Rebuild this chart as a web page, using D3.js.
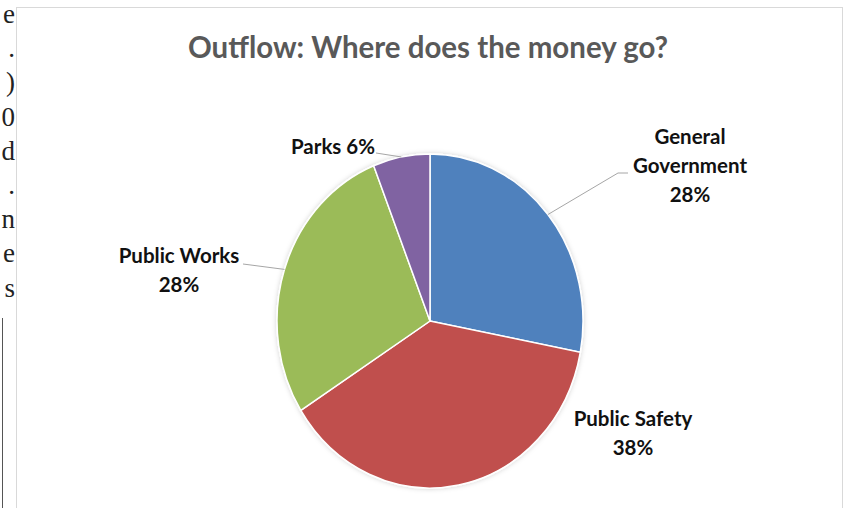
<!DOCTYPE html>
<html>
<head>
<meta charset="utf-8">
<script src="https://cdn.jsdelivr.net/npm/d3@7"></script>
<style>
  body { margin: 0; background: #fff; }
  svg { display: block; }
</style>
</head>
<body>
<script>
// data
var categories = ['General Government', 'Public Safety', 'Public Works', 'Parks'];
var shares = [28, 38, 28, 6];
var colors = ['#4f81bd', '#c0504d', '#9bbb59', '#8064a2'];
// label lines as drawn, and where each label sits
var labelLines = [['General', 'Government', '28%'], ['Public Safety', '38%'], ['Public Works', '28%'], ['Parks 6%']];
var labelPos = [[690, 144], [633, 426], [179, 263], [333, 154]];
var leaderElbow = [[628, 173], null, [243, 264], [376, 153]];
var leaderKnee = [[618, 173], null, null, null];
// the bits of page text cut off at the left
var pageChars = ['e', '.', ')', '0', 'd', '.', 'n', 'e', 's'];

var width = 849;
var height = 508;
var cx = 430, cy = 321;
var rx = 153, ry = 167;

var svg = d3.select('body').append('svg').attr('width', width).attr('height', height);

// page text at the left edge
svg.selectAll('.pagechar')
  .data(pageChars)
  .enter()
  .append('text')
  .attr('class', 'pagechar')
  .attr('x', 15)
  .attr('y', function(d, i){ return 23 + i * 34.2; })
  .attr('text-anchor', 'end')
  .attr('font-family', 'Liberation Serif, serif')
  .attr('font-size', 27)
  .attr('fill', '#222')
  .text(function(d){ return d; });

svg.append('line')
  .attr('x1', 2.5).attr('x2', 2.5)
  .attr('y1', 318).attr('y2', height)
  .attr('stroke', '#555').attr('stroke-width', 1);

// chart frame
svg.append('rect')
  .attr('x', 16.5).attr('y', 7.5)
  .attr('width', 826).attr('height', 520)
  .attr('fill', '#fff')
  .attr('stroke', '#d9d9d9');

svg.append('text')
  .attr('x', 428)
  .attr('y', 58)
  .attr('text-anchor', 'middle')
  .attr('font-family', 'Lato, sans-serif')
  .attr('font-weight', 'bold')
  .attr('font-size', 31)
  .attr('fill', '#595959')
  .attr('textLength', 480)
  .attr('lengthAdjust', 'spacingAndGlyphs')
  .text('Outflow: Where does the money go?');

var defs = svg.append('defs');
var glow = defs.append('filter').attr('id', 'glow')
  .attr('x', '-10%').attr('y', '-10%').attr('width', '120%').attr('height', '120%');
glow.append('feGaussianBlur').attr('in', 'SourceAlpha').attr('stdDeviation', 2.5).attr('result', 'b');
glow.append('feFlood').attr('flood-color', '#000').attr('flood-opacity', 0.18);
glow.append('feComposite').attr('in2', 'b').attr('operator', 'in').attr('result', 's');
var merge = glow.append('feMerge');
merge.append('feMergeNode').attr('in', 's');
merge.append('feMergeNode').attr('in', 'SourceGraphic');

var pie = d3.pie().sort(null).value(function(d){ return d; });
var arcs = pie(shares);
var arc = d3.arc().innerRadius(0).outerRadius(rx);

var pieG = svg.append('g')
  .attr('transform', 'translate(' + cx + ',' + cy + ') scale(1,' + (ry / rx) + ')')
  .attr('filter', 'url(#glow)');

pieG.selectAll('path')
  .data(arcs)
  .enter()
  .append('path')
  .attr('d', arc)
  .attr('fill', function(d, i){ return colors[i]; })
  .attr('stroke', '#fff')
  .attr('stroke-width', 1.5)
  .attr('vector-effect', 'non-scaling-stroke');

// leader lines: from the label elbow to the slice edge at mid angle
arcs.forEach(function(a, i){
  if (!leaderElbow[i]) return;
  var mid = (a.startAngle + a.endAngle) / 2;
  var ex = cx + rx * Math.sin(mid);
  var ey = cy - ry * Math.cos(mid);
  var pts = [leaderElbow[i]];
  if (leaderKnee[i]) pts.push(leaderKnee[i]);
  pts.push([ex, ey]);
  svg.append('path')
    .attr('d', d3.line()(pts))
    .attr('fill', 'none')
    .attr('stroke', '#a6a6a6')
    .attr('stroke-width', 1);
});

// labels
labelLines.forEach(function(lines, i){
  var t = svg.append('text')
    .attr('text-anchor', 'middle')
    .attr('font-family', 'Lato, sans-serif')
    .attr('font-weight', 'bold')
    .attr('font-size', 20.5)
    .attr('fill', '#111');
  lines.forEach(function(s, j){
    t.append('tspan')
      .attr('x', labelPos[i][0])
      .attr('y', labelPos[i][1] + j * 29)
      .text(s);
  });
});
</script>
</body>
</html>
